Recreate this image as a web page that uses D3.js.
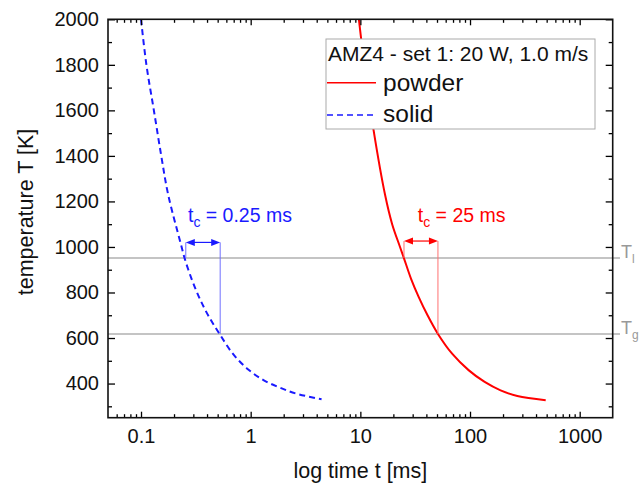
<!DOCTYPE html>
<html lang="en">
<head>
    <meta charset="UTF-8">
    <title>AMZ4 cooling</title>
    <script src="https://cdn.jsdelivr.net/npm/d3@7"></script>
    <style>
        body { margin: 0; background: #fff; }
        svg text { font-family: "Liberation Sans", Arial, sans-serif; }
        .axis path { display: none; }
        .axis line { stroke: #000; stroke-width: 1.3px; }
        .axis text { font-size: 20px; fill: #111; }
    </style>
</head>
<body>
<div id="chart"></div>
<script>

    // time [ms] and temperature [K]
    var solidTime = [0.1, 0.112, 0.131, 0.153, 0.177, 0.229, 0.25, 0.289, 0.338, 0.409, 0.52, 0.69, 0.95, 1.32, 1.85, 2.6, 4.43];
    var solidTemp = [2000, 1800, 1600, 1400, 1229, 1019, 950, 860, 780, 700, 618, 530, 462, 414, 382, 356, 331];

    var powderTime = [9.7, 11.2, 13.2, 16.8, 19.5, 23, 25, 29, 34, 41, 51, 69, 97, 136, 190, 270, 490];
    var powderTemp = [2000, 1750, 1513, 1229, 1100, 1000, 950, 860, 781, 700, 618, 530, 459, 407, 370, 345, 327];

    var xTicks = [0.1, 1, 10, 100, 1000];
    var yTicks = [400, 600, 800, 1000, 1200, 1400, 1600, 1800, 2000];

    // reference temperatures
    var refTemps = [952, 618];
    var refNames = ["l", "g"];

    // t_c markers: [start, end] time, arrow level, label time, label
    var tcSolid = [0.256, 0.527];
    var tcPowder = [25, 51];
    var tcArrowTemp = [1020, 1026];
    var tcLabelTime = [0.268, 33.4];
    var tcLabelTemp = 1108;
    var tcLabels = ["0.25 ms", "25 ms"];

    var width = 639, height = 485;
    var plotL = 108, plotR = 612.7, plotT = 19.3, plotB = 417.7;

    var svg = d3.select("#chart").append("svg")
        .attr("width", width)
        .attr("height", height);

    var x = d3.scaleLog().domain([0.05, 2000]).range([plotL, plotR]);
    var y = d3.scaleLinear().domain([250, 2000]).range([plotB, plotT]);

    // minor ticks
    var xMinor = [];
    [0.01, 0.1, 1, 10, 100, 1000].forEach(function (d) {
        for (var k = 2; k <= 9; k++) {
            var v = +(d * k).toPrecision(3);
            if (v > 0.05 && v < 2000) xMinor.push(v);
        }
    });
    var yMinor = d3.range(300, 2000, 200);

    var blue = "#1a1aff", red = "#ff0000";

    // reference lines
    svg.append("g").selectAll("line")
        .data(refTemps)
        .enter().append("line")
        .attr("x1", plotL).attr("x2", 620)
        .attr("y1", function (d) { return y(d); })
        .attr("y2", function (d) { return y(d); })
        .attr("stroke", "#b0b0b0")
        .attr("stroke-width", 1.5);

    var refLab = svg.append("g").selectAll("text")
        .data(refTemps)
        .enter().append("text")
        .attr("x", 621)
        .attr("y", function (d) { return y(d); })
        .attr("fill", "#999")
        .style("font-size", "18px");
    refLab.append("tspan").text("T");
    refLab.append("tspan")
        .attr("dy", 5)
        .style("font-size", "12px")
        .text(function (d, i) { return refNames[i]; });

    // curves
    var line = d3.line()
        .x(function (d) { return x(d[0]); })
        .y(function (d) { return y(d[1]); })
        .curve(d3.curveCatmullRom.alpha(0.5));

    svg.append("clipPath").attr("id", "plotclip")
        .append("rect")
        .attr("x", plotL).attr("y", plotT)
        .attr("width", plotR - plotL).attr("height", plotB - plotT);

    var plot = svg.append("g").attr("clip-path", "url(#plotclip)");

    plot.append("path")
        .datum(d3.zip(powderTime, powderTemp))
        .attr("d", line)
        .attr("fill", "none")
        .attr("stroke", red)
        .attr("stroke-width", 2);

    plot.append("path")
        .datum(d3.zip(solidTime, solidTemp))
        .attr("d", line)
        .attr("fill", "none")
        .attr("stroke", blue)
        .attr("stroke-width", 2)
        .attr("stroke-dasharray", "6,4");

    // t_c annotations
    var markers = [
        {t: tcSolid, color: blue, thin: "#7070ff"},
        {t: tcPowder, color: red, thin: "#ff7070"}
    ];

    markers.forEach(function (m, i) {
        var g = svg.append("g");
        var ya = y(tcArrowTemp[i]);
        var x0 = x(m.t[0]), x1 = x(m.t[1]);
        g.append("line")
            .attr("x1", x0).attr("x2", x0)
            .attr("y1", ya).attr("y2", y(refTemps[0]))
            .attr("stroke", m.thin).attr("stroke-width", 1);
        g.append("line")
            .attr("x1", x1).attr("x2", x1)
            .attr("y1", ya).attr("y2", y(refTemps[1]))
            .attr("stroke", m.thin).attr("stroke-width", 1);
        g.append("line")
            .attr("x1", x0 + 4).attr("x2", x1 - 4)
            .attr("y1", ya).attr("y2", ya)
            .attr("stroke", m.color).attr("stroke-width", 1.2);
        g.append("path")
            .attr("d", "M" + x0 + "," + ya + "l9,-3.5v7z")
            .attr("fill", m.color);
        g.append("path")
            .attr("d", "M" + x1 + "," + ya + "l-9,-3.5v7z")
            .attr("fill", m.color);

        var txt = g.append("text")
            .attr("x", x(tcLabelTime[i]))
            .attr("y", y(tcLabelTemp))
            .attr("fill", m.color)
            .style("font-size", "19.5px");
        txt.append("tspan").text("t");
        txt.append("tspan").attr("dy", 5).style("font-size", "14px").text("c");
        txt.append("tspan").attr("dy", -5).text(" = " + tcLabels[i]);
    });

    // axes, ticks pointing inward
    svg.append("g").attr("class", "axis")
        .attr("transform", "translate(0," + plotB + ")")
        .call(d3.axisBottom(x).tickValues(xTicks).tickSize(-6).tickSizeOuter(0)
            .tickPadding(11).tickFormat(d3.format("~g")));
    svg.append("g").attr("class", "axis")
        .attr("transform", "translate(0," + plotB + ")")
        .call(d3.axisBottom(x).tickValues(xMinor).tickSize(-3.5).tickSizeOuter(0).tickFormat(""));
    svg.append("g").attr("class", "axis")
        .attr("transform", "translate(0," + plotT + ")")
        .call(d3.axisTop(x).tickValues(xTicks).tickSize(-6).tickSizeOuter(0).tickFormat(""));
    svg.append("g").attr("class", "axis")
        .attr("transform", "translate(0," + plotT + ")")
        .call(d3.axisTop(x).tickValues(xMinor).tickSize(-3.5).tickSizeOuter(0).tickFormat(""));

    svg.append("g").attr("class", "axis")
        .attr("transform", "translate(" + plotL + ",0)")
        .call(d3.axisLeft(y).tickValues(yTicks).tickSize(-7).tickSizeOuter(0).tickPadding(9)
            .tickFormat(d3.format("d")));
    svg.append("g").attr("class", "axis")
        .attr("transform", "translate(" + plotL + ",0)")
        .call(d3.axisLeft(y).tickValues(yMinor).tickSize(-4).tickSizeOuter(0).tickFormat(""));
    svg.append("g").attr("class", "axis")
        .attr("transform", "translate(" + plotR + ",0)")
        .call(d3.axisRight(y).tickValues(yTicks).tickSize(-7).tickSizeOuter(0).tickFormat(""));
    svg.append("g").attr("class", "axis")
        .attr("transform", "translate(" + plotR + ",0)")
        .call(d3.axisRight(y).tickValues(yMinor).tickSize(-4).tickSizeOuter(0).tickFormat(""));

    svg.append("rect")
        .attr("x", plotL).attr("y", plotT)
        .attr("width", plotR - plotL).attr("height", plotB - plotT)
        .attr("fill", "none")
        .attr("stroke", "#111")
        .attr("stroke-width", 1.6);

    // axis titles
    svg.append("text")
        .attr("x", (plotL + plotR) / 2)
        .attr("y", 478)
        .attr("text-anchor", "middle")
        .style("font-size", "21.5px")
        .attr("fill", "#111")
        .text("log time t [ms]");

    svg.append("text")
        .attr("transform", "translate(32.5,212) rotate(-90)")
        .attr("text-anchor", "middle")
        .style("font-size", "21.5px")
        .attr("fill", "#111")
        .text("temperature T [K]");

    // legend
    var legend = svg.append("g");
    legend.append("rect")
        .attr("x", 326).attr("y", 39)
        .attr("width", 269).attr("height", 90)
        .attr("fill", "#fff")
        .attr("stroke", "#aaa")
        .attr("stroke-width", 1);
    legend.append("text")
        .attr("x", 328).attr("y", 60.7)
        .style("font-size", "21px")
        .attr("fill", "#111")
        .text("AMZ4 - set 1: 20 W, 1.0 m/s");

    var entries = [
        {name: "powder", color: red, dash: null, y: 82.7, ty: 90.5},
        {name: "solid", color: blue, dash: "6,4", y: 115, ty: 121.7}
    ];
    entries.forEach(function (e) {
        legend.append("line")
            .attr("x1", 327).attr("x2", 376)
            .attr("y1", e.y).attr("y2", e.y)
            .attr("stroke", e.color)
            .attr("stroke-width", 1.6)
            .attr("stroke-dasharray", e.dash);
        legend.append("text")
            .attr("x", 383).attr("y", e.ty)
            .style("font-size", "24.5px")
            .attr("fill", "#111")
            .text(e.name);
    });

</script>
</body>
</html>
